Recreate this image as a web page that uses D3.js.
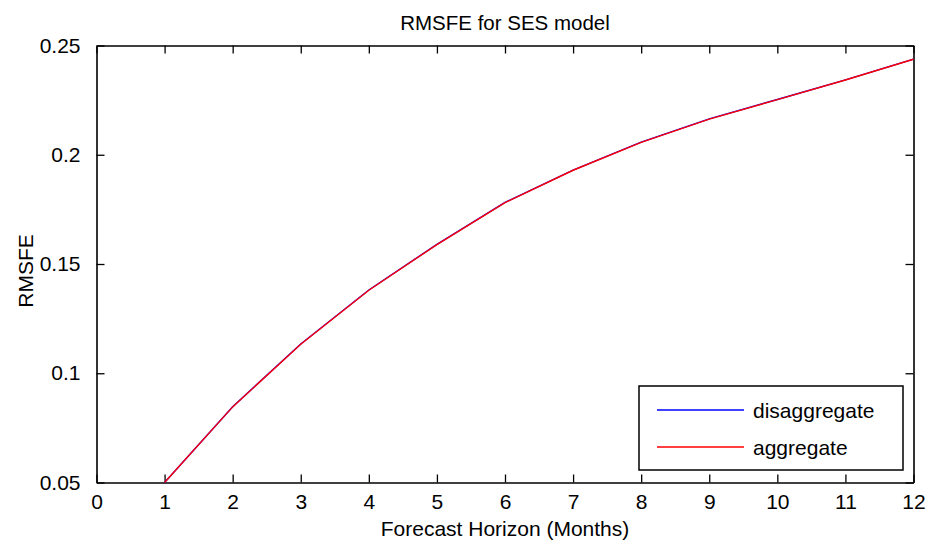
<!DOCTYPE html>
<html>
<head>
<meta charset="utf-8">
<script src="https://d3js.org/d3.v7.min.js"></script>
<style>
  body { margin: 0; background: #fff; }
  text { font-family: "Liberation Sans", Arial, Helvetica, sans-serif; fill: #000; }
</style>
</head>
<body>
<div id="chart"></div>
<script>
// forecast horizons and RMSFE per model variant
const horizons = [1, 2, 3, 4, 5, 6, 7, 8, 9, 10, 11, 12];
const disaggregate = [0.0500, 0.0847, 0.1134, 0.1381, 0.1590, 0.1782, 0.1930, 0.2058, 0.2164, 0.2253, 0.2343, 0.2438];
const aggregate = [0.0500, 0.0846, 0.1133, 0.1380, 0.1589, 0.1781, 0.1929, 0.2057, 0.2163, 0.2252, 0.2342, 0.2437];
const xTicks = [0, 1, 2, 3, 4, 5, 6, 7, 8, 9, 10, 11, 12];
const yTicks = [0.05, 0.1, 0.15, 0.2, 0.25];

const series = [
  { name: 'disaggregate', values: disaggregate, color: 'blue' },
  { name: 'aggregate', values: aggregate, color: 'red' }
];

const W = 930, H = 544;
const margins = { l: 96.5, r: 16.5, t: 45.5, b: 61.5 };
const chartWidth = W - margins.l - margins.r;
const chartHeight = H - margins.t - margins.b;

const svg = d3.select('#chart').append('svg')
  .attr('width', W)
  .attr('height', H);

const g = svg.append('g')
  .attr('transform', `translate(${margins.l},${margins.t})`);

const x = d3.scaleLinear().domain([0, 12]).range([0, chartWidth]);
const y = d3.scaleLinear().domain([0.05, 0.25]).range([chartHeight, 0]);

const fmtY = d => d3.format('.2~f')(d);

// box axes, ticks pointing inward like matlab
const tickLen = 8;
g.append('g')
  .attr('transform', `translate(0,${chartHeight})`)
  .call(d3.axisBottom(x).tickValues(xTicks).tickSizeInner(-tickLen).tickSizeOuter(0).tickPadding(12));
g.append('g')
  .call(d3.axisTop(x).tickValues(xTicks).tickSizeInner(-tickLen).tickSizeOuter(0).tickFormat(''));
g.append('g')
  .call(d3.axisLeft(y).tickValues(yTicks).tickSizeInner(-tickLen).tickSizeOuter(0).tickPadding(16).tickFormat(fmtY));
g.append('g')
  .attr('transform', `translate(${chartWidth},0)`)
  .call(d3.axisRight(y).tickValues(yTicks).tickSizeInner(-tickLen).tickSizeOuter(0).tickFormat(''));

g.selectAll('.domain').attr('stroke', '#000').attr('stroke-width', 1.6);
g.selectAll('.tick line').attr('stroke', '#000').attr('stroke-width', 1.3);
g.selectAll('.tick text')
  .style('font-family', '"Liberation Sans", Arial, sans-serif')
  .style('font-size', '21px')
  .attr('fill', '#000');

// lines
const line = d3.line()
  .x((d, i) => x(horizons[i]))
  .y(d => y(d));

series.forEach(s => {
  g.append('path')
    .datum(s.values)
    .attr('fill', 'none')
    .attr('stroke', s.color)
    .attr('stroke-width', 1.4)
    .attr('d', line);
});

// titles
svg.append('text')
  .attr('x', margins.l + chartWidth / 2)
  .attr('y', 30)
  .attr('text-anchor', 'middle')
  .style('font-size', '20.5px')
  .text('RMSFE for SES model');

svg.append('text')
  .attr('x', margins.l + chartWidth / 2)
  .attr('y', 536)
  .attr('text-anchor', 'middle')
  .style('font-size', '21px')
  .text('Forecast Horizon (Months)');

svg.append('text')
  .attr('transform', 'rotate(-90)')
  .attr('x', -271)
  .attr('y', 33)
  .attr('text-anchor', 'middle')
  .style('font-size', '21px')
  .text('RMSFE');

// legend
const legend = svg.append('g').attr('transform', 'translate(639,386)');
legend.append('rect')
  .attr('width', 264)
  .attr('height', 84)
  .attr('fill', '#fff')
  .attr('stroke', '#000')
  .attr('stroke-width', 1.5);

series.forEach((s, i) => {
  const ly = 24 + i * 37;
  legend.append('line')
    .attr('x1', 18).attr('x2', 105)
    .attr('y1', ly).attr('y2', ly)
    .attr('stroke', s.color)
    .attr('stroke-width', 1.4);
  legend.append('text')
    .attr('x', 114)
    .attr('y', ly + 7.5)
    .style('font-size', '21px')
    .text(s.name);
});
</script>
</body>
</html>
